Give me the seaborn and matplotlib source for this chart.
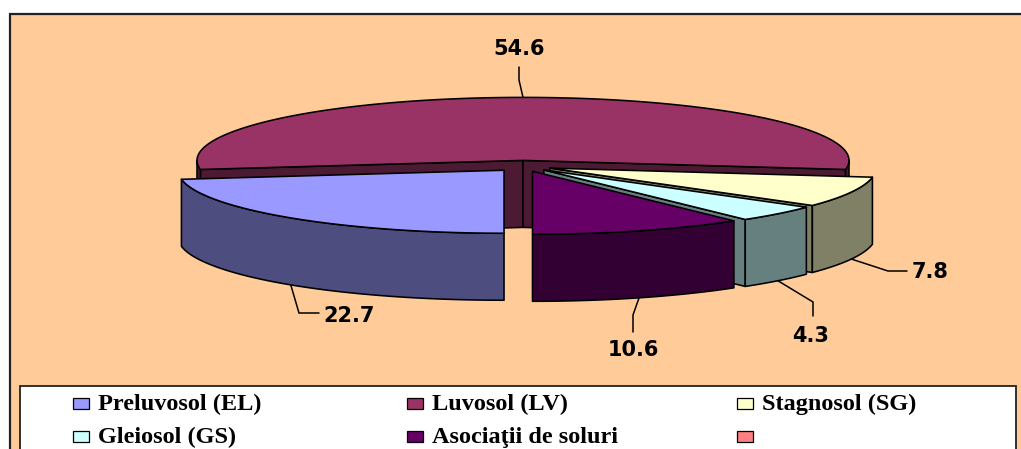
import numpy as np
import matplotlib
matplotlib.use("Agg")
import matplotlib.pyplot as plt
from matplotlib.patches import Polygon, Rectangle
import seaborn as sns

# Soil types and their share (%)
categories = ["Preluvosol (EL)", "Luvosol (LV)", "Stagnosol (SG)",
              "Gleiosol (GS)", "Asociaţii de soluri", ""]
values = [22.7, 54.6, 7.8, 4.3, 10.6, 0.0]
top_colors = ["#9999FF", "#993366", "#FFFFCC", "#CCFFFF", "#660066", "#FF8080"]

sns.set_theme(style="white")
plt.rcParams["font.family"] = ["DejaVu Sans"]

palette = sns.color_palette(top_colors)
side_palette = [tuple(c * 0.5 for c in col) for col in palette]

W, H = 1021, 449
fig = plt.figure(figsize=(W / 100, H / 100), dpi=100)
ax = fig.add_axes([0, 0, 1, 1])
ax.set_xlim(0, W)
ax.set_ylim(H, 0)
ax.axis("off")

# chart area and legend box
ax.add_patch(Rectangle((9.5, 13.5), 1040, 460, facecolor="#FFCC99",
                       edgecolor="#222222", lw=1.6, zorder=0))
ax.add_patch(Rectangle((19.5, 385.5), 996, 80, facecolor="white",
                       edgecolor="#222222", lw=1.3, zorder=1))

# 3-D pie geometry (pixel units)
CX, CY = 523.0, 166.0
RX, RY = 326.0, 63.0
DEPTH = 67.0
EXPLODE = 29.0
START = 180.0  # first slice starts at 6 o'clock, going clockwise

total = float(sum(values))
spans = [v / total * 360.0 for v in values]
starts = START + np.concatenate([[0.0], np.cumsum(spans)[:-1]])


def arc(cx, cy, a, b):
    n = max(int(abs(b - a)) + 2, 3)
    t = np.radians(np.linspace(a, b, n))
    return cx + RX * np.sin(t), cy - RY * np.cos(t)


def front_intervals(a, b):
    out = []
    for k in range(-1, 3):
        lo, hi = max(a, 90 + 360 * k), min(b, 270 + 360 * k)
        if hi > lo:
            out.append((lo, hi))
    return out


def slice_center(mid):
    m = np.radians(mid)
    return (CX + EXPLODE * np.sin(m),
            CY - EXPLODE * np.cos(m) * RY / RX)


order = [i for i in range(len(values)) if values[i] > 0]
order.sort(key=lambda i: -np.cos(np.radians(starts[i] + spans[i] / 2)))

z = 5
edge = dict(edgecolor="black", lw=1.15, joinstyle="round")
anchors = {}
for i in order:
    a = starts[i]
    b = a + spans[i]
    mid = (a + b) / 2
    cx, cy = slice_center(mid)
    side = side_palette[i]

    # radial cut faces that face the viewer
    for ang, visible in ((a, np.sin(np.radians(a)) < -1e-6),
                         (b, np.sin(np.radians(b)) > 1e-6)):
        if visible:
            t = np.radians(ang)
            ox, oy = cx + RX * np.sin(t), cy - RY * np.cos(t)
            quad = [(cx, cy), (ox, oy), (ox, oy + DEPTH), (cx, cy + DEPTH)]
            ax.add_patch(Polygon(quad, closed=True, facecolor=side,
                                 zorder=z, **edge))
            z += 1

    # outer curved wall
    for lo, hi in front_intervals(a, b):
        xs, ys = arc(cx, cy, lo, hi)
        pts = np.column_stack([np.concatenate([xs, xs[::-1]]),
                               np.concatenate([ys, ys[::-1] + DEPTH])])
        ax.add_patch(Polygon(pts, closed=True, facecolor=side,
                             zorder=z, **edge))
        z += 1

    # top face
    xs, ys = arc(cx, cy, a, b)
    pts = np.column_stack([np.concatenate([[cx], xs]),
                           np.concatenate([[cy], ys])])
    ax.add_patch(Polygon(pts, closed=True, facecolor=palette[i],
                         zorder=z, **edge))
    z += 1

    m = np.radians(mid)
    if -np.cos(m) > 0:
        anchors[i] = (cx + RX * np.sin(m), cy - RY * np.cos(m) + DEPTH)
    else:
        anchors[i] = (cx + RX * np.sin(m), cy - RY * np.cos(m))

# data labels: text position and leader-line bend points
label_layout = {
    0: ((349, 322), [(299, 313), (319, 313)]),
    1: ((519, 55), [(519, 80), (519, 67)]),
    2: ((930, 278), [(888, 271), (907, 271)]),
    3: ((811, 342), [(813, 302), (813, 316)]),
    4: ((633, 356), [(633, 315), (633, 332)]),
}
for i, ((tx, ty), bends) in label_layout.items():
    pts = [anchors[i]] + bends
    ax.plot([p[0] for p in pts], [p[1] for p in pts], color="black",
            lw=1.1, zorder=100, solid_joinstyle="miter")
    ax.text(tx, ty, f"{values[i]:.1f}", ha="center", va="baseline",
            fontsize=15, fontweight="bold", color="black",
            family=["DejaVu Sans"], zorder=101)

# legend
col_x = [73, 407, 737]
row_base = [410, 443]
for k, name in enumerate(categories):
    r, c = divmod(k, 3)
    sx, base = col_x[c], row_base[r]
    ax.add_patch(Rectangle((sx, base - 12.5), 16, 11, facecolor=palette[k],
                           edgecolor="black", lw=0.9, zorder=50))
    if name:
        ax.text(sx + 25, base, name, ha="left", va="baseline",
                fontsize=17.5, fontweight="bold", color="black",
                family=["Liberation Serif", "DejaVu Serif"], zorder=51)

fig.savefig("out.png", dpi=100, facecolor="white")
